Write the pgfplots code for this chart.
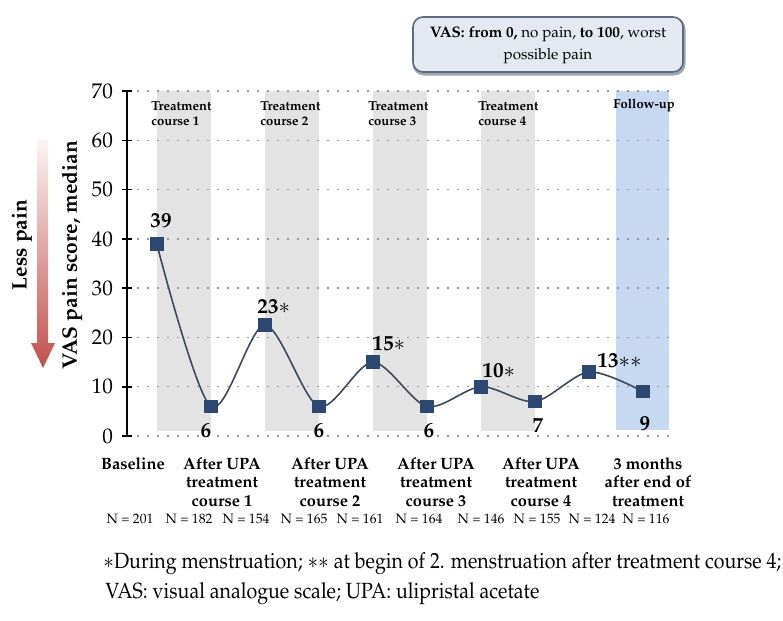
\documentclass[border=0pt]{standalone}
\usepackage[T1]{fontenc}
\usepackage{mathpazo}
\usepackage{pgfplots}
\pgfplotsset{compat=1.18}
\definecolor{bandgray}{HTML}{E3E3E3}
\definecolor{bandblue}{HTML}{C6D9F0}
\definecolor{markc}{HTML}{2C4770}
\definecolor{linec}{HTML}{3B4A5C}
\definecolor{boxfill}{HTML}{E4E8F0}
\definecolor{boxdraw}{HTML}{5C6B80}
\definecolor{arrowred}{HTML}{C0504D}
\begin{document}
\begin{tikzpicture}
\begin{axis}[
  at={(63.5pt,-218pt)}, anchor=south west,
  scale only axis, width=271pt, height=172.5pt,
  xmin=-0.55, xmax=9.48, ymin=0, ymax=70,
  set layers,
  hide x axis,
  axis y line*=left,
  y axis line style={line width=1pt},
  ytick={0,10,...,70},
  tick align=center, major tick length=5pt,
  tick style={black, line width=0.8pt},
  ymajorgrids,
  grid style={gray!80, dash pattern=on 0.9pt off 4.1pt, line width=0.7pt},
  yticklabel style={font=\fontsize{10.6}{12}\selectfont, xshift=-1pt},
  clip=false,
]
\addplot[on layer=axis background, fill=bandgray, draw=none] coordinates {(0,1) (1,1) (1,70) (0,70)} -- cycle;
\addplot[on layer=axis background, fill=bandgray, draw=none] coordinates {(2,1) (3,1) (3,70) (2,70)} -- cycle;
\addplot[on layer=axis background, fill=bandgray, draw=none] coordinates {(4,1) (5,1) (5,70) (4,70)} -- cycle;
\addplot[on layer=axis background, fill=bandgray, draw=none] coordinates {(6,1) (7,1) (7,70) (6,70)} -- cycle;
\addplot[on layer=axis background, fill=bandblue, draw=none] coordinates {(8.5,1.2) (9.48,1.2) (9.48,70) (8.5,70)} -- cycle;
\addplot[smooth, tension=0.5, color=linec, line width=0.8pt, mark=square*, mark size=3pt,
  mark options={fill=markc, draw=markc}]
  coordinates {(0,39) (1,6) (2,22.5) (3,6) (4,15) (5,6) (6,10) (7,7) (8,13) (9,9)};
\end{axis}
\begin{scope}[x=0.5pt, y=-0.5pt]
\useasboundingbox (0,0) rectangle (783,621);
% arrow
\shade[top color=white!94!arrowred, bottom color=arrowred]
  (37,140) -- (48,140) -- (48,343) -- (55,343) -- (43,368) -- (31,343) -- (37,343) -- cycle;
% axis labels
\node[rotate=90, font=\fontsize{10.5}{12}\selectfont\bfseries] at (22,245) {Less pain};
\node[rotate=90, font=\fontsize{10.5}{12}\selectfont\bfseries] at (72,255) {VAS pain score, median};
% treatment labels
\tikzset{tl/.style={anchor=base west, inner sep=0pt, font=\fontsize{6.5}{7}\selectfont\bfseries}}
\node[tl] at (151,110) {Treatment};
\node[tl] at (151,125) {course 1};
\node[tl] at (260,110) {Treatment};
\node[tl] at (260,125) {course 2};
\node[tl] at (368,110) {Treatment};
\node[tl] at (368,125) {course 3};
\node[tl] at (478,110) {Treatment};
\node[tl] at (478,125) {course 4};
\node[tl] at (613,108) {Follow-up};
% value labels
\tikzset{vl/.style={inner sep=0pt, font=\fontsize{10.6}{12}\selectfont\bfseries}}
\node[vl, anchor=base] at (161,227) {39};
\node[vl, anchor=base] at (206,437) {6};
\node[vl, anchor=base west] at (257,313) {23$\ast$};
\node[vl, anchor=base] at (319,437) {6};
\node[vl, anchor=base west] at (372,350) {15$\ast$};
\node[vl, anchor=base] at (429,437) {6};
\node[vl, anchor=base west] at (482,377) {10$\ast$};
\node[vl, anchor=base] at (538,432) {7};
\node[vl, anchor=base west] at (597,367) {13$\ast\ast$};
\node[vl, anchor=base] at (645,430) {9};
% category labels
\tikzset{cl/.style={anchor=north, align=center, inner sep=0pt, font=\fontsize{8.2}{9.3}\selectfont\bfseries}}
\node[cl] at (133,457) {Baseline};
\node[cl] at (222,457) {After UPA\\treatment\\course 1};
\node[cl] at (330,457) {After UPA\\treatment\\course 2};
\node[cl] at (436,457) {After UPA\\treatment\\course 3};
\node[cl] at (541,457) {After UPA\\treatment\\course 4};
\node[cl] at (648,457) {3 months\\after end of\\treatment};
% N labels
\tikzset{nl/.style={anchor=base, inner sep=0pt, font=\fontsize{6.8}{8}\selectfont}}
\node[nl] at (130,523) {N = 201};
\node[nl] at (189,523) {N = 182};
\node[nl] at (246,523) {N = 154};
\node[nl] at (304,523) {N = 165};
\node[nl] at (360,523) {N = 161};
\node[nl] at (419,523) {N = 164};
\node[nl] at (481,523) {N = 146};
\node[nl] at (537,523) {N = 155};
\node[nl] at (592,523) {N = 124};
\node[nl] at (646,523) {N = 116};
% VAS box
\draw[boxdraw!60, line width=1.5pt, rounded corners=5pt] (414,19) rectangle (684,74);
\draw[boxdraw, fill=boxfill, line width=0.8pt, rounded corners=5pt] (413,17) rectangle (683,72);
\node[align=center, inner sep=0pt, font=\fontsize{7.6}{11}\selectfont] at (548,45)
  {\textbf{VAS: from 0,} no pain, \textbf{to 100}, worst\\possible pain};
% footnotes
\node[anchor=base west, inner sep=0pt, font=\fontsize{11}{13}\selectfont] at (103,568)
  {\scalebox{0.89}[1]{$\ast$During menstruation; $\ast\ast$ at begin of 2. menstruation after treatment course 4;}};
\node[anchor=base west, inner sep=0pt, font=\fontsize{11}{13}\selectfont] at (105,598)
  {\scalebox{0.89}[1]{VAS: visual analogue scale; UPA: ulipristal acetate}};
\end{scope}
\end{tikzpicture}
\end{document}
